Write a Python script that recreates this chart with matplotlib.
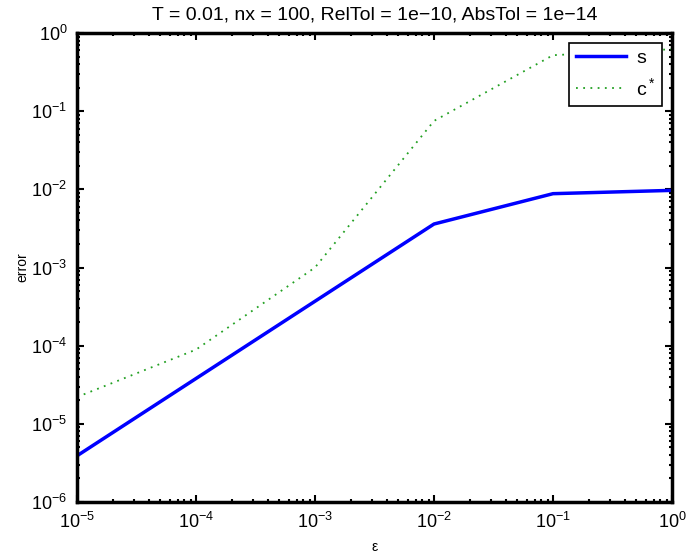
import matplotlib
matplotlib.use("Agg")
import matplotlib.pyplot as plt
from matplotlib.ticker import FixedLocator, NullFormatter, LogFormatterMathtext

plt.rcParams['font.family'] = ['Liberation Sans', 'DejaVu Sans']
plt.rcParams['mathtext.fontset'] = 'custom'
plt.rcParams['mathtext.rm'] = 'Liberation Sans'
plt.rcParams['mathtext.it'] = 'Liberation Sans'

eps = [1e-5, 1e-4, 1e-3, 1e-2, 1e-1, 1e0]
err_s = [3.9e-6, 3.8e-5, 3.7e-4, 3.6e-3, 8.8e-3, 9.7e-3]
err_c = [2.2e-5, 8.9e-5, 1.0e-3, 7.5e-2, 0.52, 0.62]

x_major = [1e-5, 1e-4, 1e-3, 1e-2, 1e-1, 1e0]
y_major = [1e-6, 1e-5, 1e-4, 1e-3, 1e-2, 1e-1, 1e0]

fig = plt.figure(figsize=(6.86, 5.59), dpi=100)
ax = fig.add_axes([77/686, 1-502/559, (672-77)/686, (502-33)/559])

ax.loglog(eps, err_s, color='#0000ff', lw=2.5, label='s')
ax.loglog(eps, err_c, color='#22a022', lw=1.3, ls=(0, (1, 3)), label='c$^*$')

ax.set_xlim(1e-5, 1e0)
ax.set_ylim(1e-6, 1e0)
ax.xaxis.set_major_locator(FixedLocator(x_major))
ax.yaxis.set_major_locator(FixedLocator(y_major))
ax.xaxis.set_major_formatter(LogFormatterMathtext())
ax.yaxis.set_major_formatter(LogFormatterMathtext())
x_minor = [m * d for d in x_major[:-1] for m in range(2, 10)]
y_minor = [m * d for d in y_major[:-1] for m in range(2, 10)]
ax.xaxis.set_minor_locator(FixedLocator(x_minor))
ax.yaxis.set_minor_locator(FixedLocator(y_minor))
ax.yaxis.set_minor_formatter(NullFormatter())
ax.xaxis.set_minor_formatter(NullFormatter())
ax.tick_params(which='both', direction='in', top=True, right=True, width=1.5)
ax.tick_params(which='major', length=5, labelsize=13, pad=7)
ax.tick_params(which='minor', length=2.5)
for sp in ax.spines.values():
    sp.set_linewidth(2.5)

ax.set_title('T = 0.01, nx = 100, RelTol = 1e\u221210, AbsTol = 1e\u221214', fontsize=14, pad=10)
ax.set_xlabel('\u03b5', fontsize=10, labelpad=6)
ax.set_ylabel('error', fontsize=10, labelpad=1)

leg = ax.legend(loc='upper right', fontsize=14, frameon=True, fancybox=False,
                edgecolor='black', framealpha=1, handlelength=2.6,
                borderpad=0.35, labelspacing=0.5, borderaxespad=0.5, handletextpad=0.5)
leg.get_frame().set_linewidth(1.2)

fig.savefig('out.png', dpi=100)
